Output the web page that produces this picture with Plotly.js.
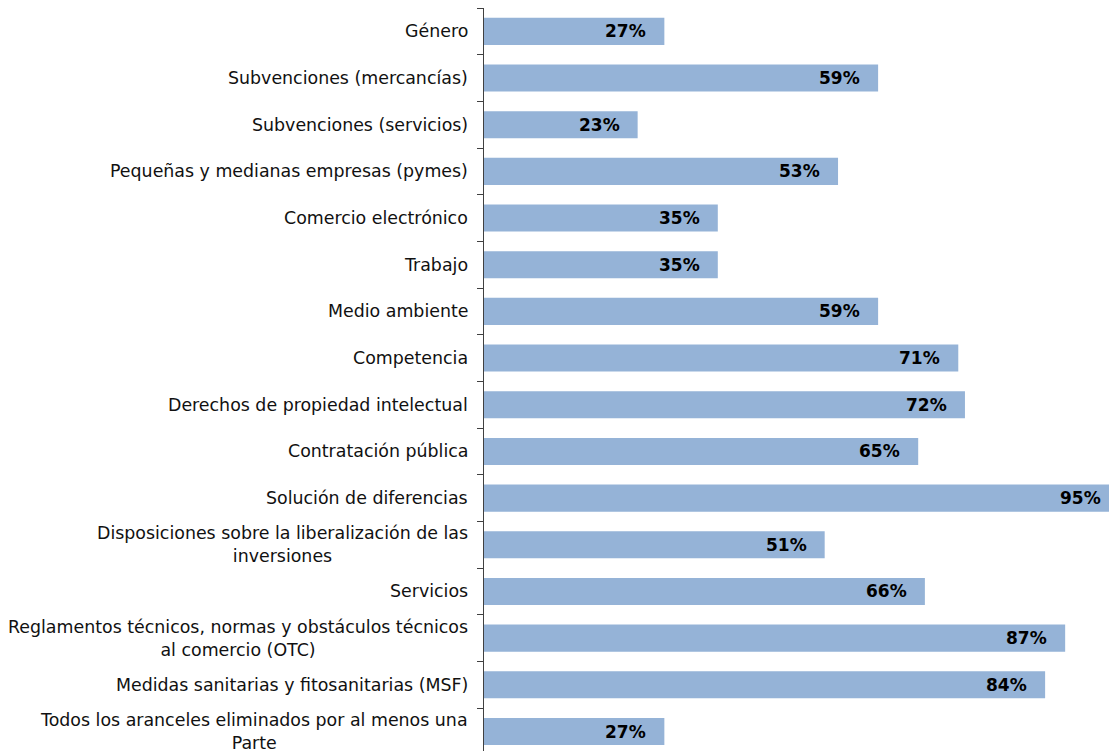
<!DOCTYPE html>
<html>
<head>
<meta charset="utf-8">
<script src="https://cdn.plot.ly/plotly-3.0.1.min.js"></script>
<style>
html, body { margin: 0; padding: 0; overflow: hidden; background: #fff; }
#chart { width: 1152px; height: 755px; }
</style>
</head>
<body>
<div id="chart"></div>
<script>
const categories = [
  "Género",
  "Subvenciones (mercancías)",
  "Subvenciones (servicios)",
  "Pequeñas y medianas empresas (pymes)",
  "Comercio electrónico",
  "Trabajo",
  "Medio ambiente",
  "Competencia",
  "Derechos de propiedad intelectual",
  "Contratación pública",
  "Solución de diferencias",
  "Disposiciones sobre la liberalización de las<br>inversiones",
  "Servicios",
  "Reglamentos técnicos, normas y obstáculos técnicos<br>al comercio (OTC)",
  "Medidas sanitarias y fitosanitarias (MSF)",
  "Todos los aranceles eliminados por al menos una<br>Parte"
];
const values = [27, 59, 23, 53, 35, 35, 59, 71, 72, 65, 95, 51, 66, 87, 84, 27];
const valueLabels = values.map(v => v + "%");

const FONT = "DejaVu Sans, Verdana, sans-serif";

const trace = {
  type: "bar",
  orientation: "h",
  y: categories,
  x: values,
  marker: { color: "#95b3d7", line: { width: 0 } },
  hoverinfo: "none"
};

const valueAnnotations = values.map((v, i) => ({
  x: v, y: categories[i], xref: "x", yref: "y",
  text: "<b>" + valueLabels[i] + "</b>",
  showarrow: false, xanchor: "right", yanchor: "middle",
  xshift: -16,
  font: { family: FONT, size: 17, color: "#000" }
}));

const categoryAnnotations = categories.map((c, i) => ({
  x: 0, y: c, xref: "paper", yref: "y",
  text: c,
  showarrow: false, xanchor: "right", yanchor: "middle", align: "center",
  xshift: -14,
  font: { family: FONT, size: 17.4, color: "#111" }
}));

const layout = {
  width: 1152,
  height: 755,
  margin: { l: 484, r: 0, t: 8, b: 0, pad: 0 },
  paper_bgcolor: "#fff",
  plot_bgcolor: "#fff",
  showlegend: false,
  bargap: 0.42,
  xaxis: {
    range: [0, 100],
    visible: false,
    fixedrange: true
  },
  yaxis: {
    autorange: "reversed",
    showline: true,
    linecolor: "#404040",
    linewidth: 1.5,
    ticks: "outside",
    tickson: "boundaries",
    ticklen: 6,
    tickcolor: "#404040",
    tickwidth: 1,
    showgrid: false,
    zeroline: false,
    showticklabels: false,
    fixedrange: true
  },
  annotations: valueAnnotations.concat(categoryAnnotations)
};

Plotly.newPlot("chart", [trace], layout, { displayModeBar: false, staticPlot: true });
</script>
</body>
</html>
